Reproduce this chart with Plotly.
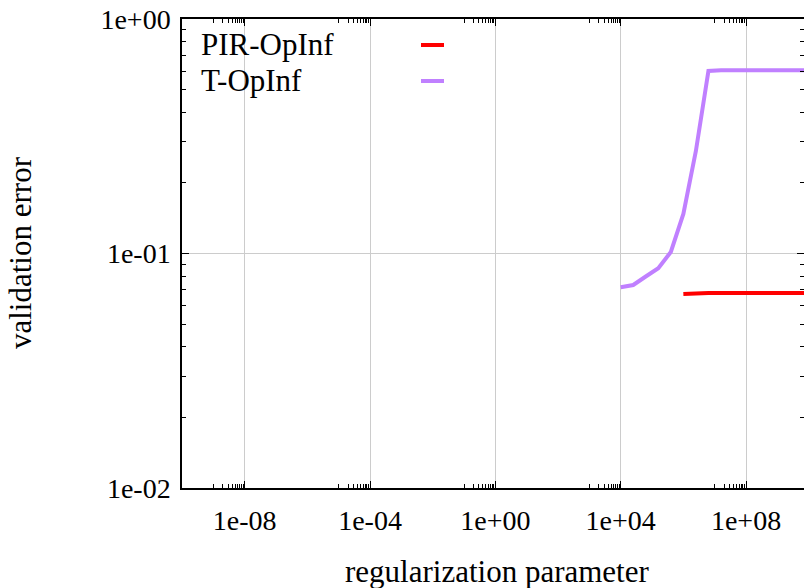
import plotly.graph_objects as go

# ---- data ----
t_opinf_x = [1e4, 10**4.4, 10**4.8, 10**5.2, 10**5.6, 1e6, 10**6.4, 10**6.8, 10**7.2,
             10**7.6, 1e8, 10**8.4, 10**8.8, 10**9.2, 10**9.6, 1e10]
t_opinf_y = [0.0718, 0.0734, 0.0798, 0.0865, 0.1015, 0.1474, 0.2736, 0.600, 0.604,
             0.605, 0.605, 0.605, 0.605, 0.605, 0.605, 0.605]
pir_x = [1e6, 10**6.4, 10**6.8, 10**7.2, 10**7.6, 1e8, 10**8.4, 10**8.8, 10**9.2, 10**9.6, 1e10]
pir_y = [0.0672, 0.0678, 0.0679, 0.0679, 0.0679, 0.0679, 0.0679, 0.0679, 0.0679, 0.0679, 0.0679]

x_tickvals = [1e-8, 1e-4, 1e0, 1e4, 1e8]
x_ticktext = ["1e-08", "1e-04", "1e+00", "1e+04", "1e+08"]
y_tickvals = [1e-2, 1e-1, 1e0]
y_ticktext = ["1e-02", "1e-01", "1e+00"]

x_minor = [k * v / 10 for v in x_tickvals for k in range(1, 10)]
y_minor = [k * d for d in (1e-2, 1e-1) for k in range(2, 10)]

W, H = 804, 588
L, R, T, B = 182, 0, 19, 100
FONT = "Liberation Serif, Times New Roman, Times, DejaVu Serif, serif"

def px(x):
    return (x - L) / (W - L - R)

def py(y):
    return 1 - (y - T) / (H - T - B)

fig = go.Figure()
fig.add_trace(go.Scatter(x=pir_x, y=pir_y, mode="lines", name="PIR-OpInf",
                         line=dict(color="#ff0000", width=4), showlegend=False))
fig.add_trace(go.Scatter(x=t_opinf_x, y=t_opinf_y, mode="lines", name="T-OpInf",
                         line=dict(color="#c080ff", width=4), showlegend=False))

# legend (gnuplot style: text left, sample right)
fig.add_shape(type="rect", xref="paper", yref="paper", x0=px(183), x1=px(455),
              y0=py(100), y1=py(20), fillcolor="white", line=dict(width=0), layer="between")
for name, color, yy in [("PIR-OpInf", "#ff0000", 45), ("T-OpInf", "#c080ff", 81)]:
    fig.add_annotation(text=name, xref="paper", yref="paper", x=px(199), y=py(yy - 1),
                       xanchor="left", yanchor="middle", showarrow=False,
                       font=dict(family=FONT, size=31, color="black"))
    fig.add_shape(type="line", xref="paper", yref="paper", x0=px(421), x1=px(444),
                  y0=py(yy), y1=py(yy), line=dict(color=color, width=4))

# axis titles
fig.add_annotation(text="regularization parameter", xref="paper", yref="paper",
                   x=px(497), y=py(571), xanchor="center", yanchor="middle", showarrow=False,
                   font=dict(family=FONT, size=31, color="black"))
fig.add_annotation(text="validation error", xref="paper", yref="paper",
                   x=px(21), y=py(253), xanchor="center", yanchor="middle", showarrow=False,
                   textangle=-90, font=dict(family=FONT, size=31, color="black"))

fig.update_xaxes(type="log", range=[-10, 9.85],
                 tickvals=x_tickvals, ticktext=x_ticktext,
                 ticks="inside", ticklen=7, tickwidth=1, tickcolor="black",
                 showline=True, linecolor="black", linewidth=1.5, mirror="allticks",
                 showgrid=True, gridcolor="#cccccc", gridwidth=1,
                 minor=dict(tickvals=x_minor, ticks="inside", ticklen=4, tickcolor="black",
                            showgrid=False),
                 tickfont=dict(family=FONT, size=28, color="black"),
                 ticklabelstandoff=7, zeroline=False)
fig.update_yaxes(type="log", range=[-2, 0],
                 tickvals=y_tickvals, ticktext=y_ticktext,
                 ticks="inside", ticklen=7, tickwidth=1, tickcolor="black",
                 showline=True, linecolor="black", linewidth=1.5, mirror="allticks",
                 showgrid=True, gridcolor="#cccccc", gridwidth=1,
                 minor=dict(tickvals=y_minor, ticks="inside", ticklen=4, tickcolor="black",
                            showgrid=False),
                 tickfont=dict(family=FONT, size=28, color="black"),
                 ticklabelstandoff=4, zeroline=False)

fig.update_layout(width=W, height=H, margin=dict(l=L, r=R, t=T, b=B, autoexpand=False),
                  plot_bgcolor="white", paper_bgcolor="white", showlegend=False)

fig.write_html("out.html")
